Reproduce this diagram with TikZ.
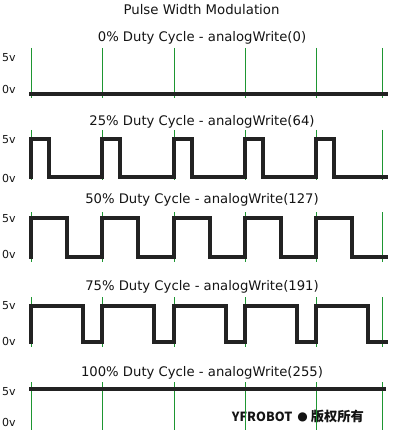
\documentclass[tikz,border=0pt]{standalone}
\usepackage{fontspec}
\setmainfont{DejaVu Sans}
\newfontfamily\cjk{Noto Sans CJK SC}
\newfontfamily\dejav{DejaVu Sans}
\definecolor{gridgreen}{RGB}{30,150,50}
\definecolor{wave}{RGB}{34,34,34}
\definecolor{txt}{RGB}{20,20,20}
\begin{document}
\begin{tikzpicture}[x=1pt,y=-1pt,
  ttl/.style={font=\fontsize{13.2}{15}\selectfont, text=txt, inner sep=0pt},
  mttl/.style={font=\fontsize{13.3}{15}\selectfont, text=txt, inner sep=0pt},
  lvl/.style={font=\fontsize{11}{12}\selectfont, text=txt, inner sep=0pt, anchor=west},
  grn/.style={draw=gridgreen, line width=1pt},
  wv/.style={draw=wave, line width=3.3pt, line join=miter, line cap=rect},
  wm/.style={font=\cjk\bfseries\fontsize{12.6}{14}\selectfont, text=txt, inner sep=0pt}]
\useasboundingbox (0,0) rectangle (400,438);
\fill[white] (0,0) rectangle (400,438);
\node[mttl] (main) at (201.5,10) {Pulse Width Modulation};
% watermark (under the grid lines)
\node[wm] (mark) at (298,417) {YFROBOT\hspace{5pt}\raisebox{1.6pt}{\dejav\fontsize{12}{13}\selectfont ●}\hspace{3pt}{\fontsize{13.3}{14}\selectfont 版权所有}};
% panels: title y, green top, green bottom, 5v y, 0v y, name, text
\foreach \ty/\gt/\gb/\fy/\zy/\nm/\txt in {
  38/48/98/58/89/p0/{0\% Duty Cycle - analogWrite(0)},
  122/130/180/140/178/p25/{25\% Duty Cycle - analogWrite(64)},
  200/212/262/219/254/p50/{50\% Duty Cycle - analogWrite(127)},
  287/297/347/306/341/p75/{75\% Duty Cycle - analogWrite(191)},
  373/382/430/392/422/p100/{100\% Duty Cycle - analogWrite(255)}}{
  \node[ttl] (\nm-title) at (202,\ty) {\txt};
  \node[lvl] (\nm-5v) at (2,\fy) {5v};
  \node[lvl] (\nm-0v) at (2,\zy) {0v};
  \foreach \gx in {31,102,174,245,316,382}
    \draw[grn] (\gx,\gt) -- (\gx,\gb);
}
% waveforms
\draw[wv] (31,94) -- (386,94);
\draw[wv] (31,177) \foreach \s in {31,102,174,245,316} { -- (\s,177) -- (\s,139) -- (\s+18,139) -- (\s+18,177) } -- (386,177);
\draw[wv] (31,257) \foreach \s in {31,102,174,245,316} { -- (\s,257) -- (\s,218) -- (\s+36,218) -- (\s+36,257) } -- (386,257);
\draw[wv] (31,342) \foreach \s in {31,102,174,245,316} { -- (\s,342) -- (\s,306) -- (\s+52,306) -- (\s+52,342) } -- (386,342);
\draw[wv] (31,389) -- (384,389);
\end{tikzpicture}
\end{document}
